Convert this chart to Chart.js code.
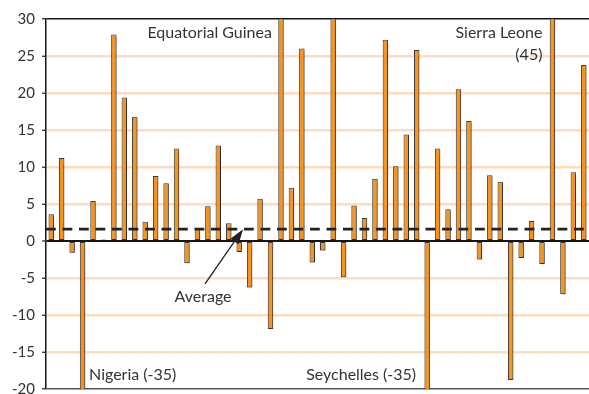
<!DOCTYPE html>
<html>
<head>
<meta charset="utf-8">
<script src="https://cdn.jsdelivr.net/npm/chart.js@4.4.1/dist/chart.umd.min.js"></script>
<style>
  html, body { margin: 0; padding: 0; background: #ffffff; }
  #wrap { width: 589px; height: 394px; }
</style>
</head>
<body>
<div id="wrap"><canvas id="c" width="589" height="394"></canvas></div>
<script>
// Growth by country (per cent); values beyond the axis range are clipped.
const countries = [
  'c01','c02','c03','Nigeria','c05','c06','c07','c08','c09','c10',
  'c11','c12','c13','c14','c15','c16','c17','c18','c19','c20',
  'c21','c22','Equatorial Guinea','c24','c25','c26','c27','c28','c29','c30',
  'c31','c32','c33','c34','c35','c36','Seychelles','c38','c39','c40',
  'c41','c42','c43','c44','c45','c46','c47','c48','Sierra Leone','c50',
  'c51','c52'
];
const growth = [
  3.6, 11.2, -1.6, -35, 5.4, 0.2, 27.9, 19.4, 16.8, 2.6,
  8.8, 7.8, 12.5, -3.0, 1.8, 4.7, 12.9, 2.4, -1.5, -6.3,
  5.7, -11.9, 34, 7.2, 26.0, -2.9, -1.3, 31, -4.9, 4.8,
  3.1, 8.4, 27.2, 10.1, 14.4, 25.8, -35, 12.5, 4.3, 20.5,
  16.2, -2.5, 8.9, 8.0, -18.8, -2.3, 2.7, -3.1, 45, -7.2,
  9.3, 23.8
];
const average = 1.6;
const yTicks = { min: -20, max: 30, step: 5 };

// Text callouts: [text, category index, value, alignment, pixel shift]
const callouts = [
  ['Equatorial Guinea', 22, 27.4, 'right', -9],
  ['Sierra Leone', 48, 27.4, 'right', -10],
  ['(45)', 48, 24.5, 'right', -10],
  ['Nigeria (-35)', 3, -18.8, 'left', 6.5],
  ['Seychelles (-35)', 36, -18.8, 'right', -11],
  ['Average', 14.54, -8.3, 'center', 0]
];
// Arrow from the "Average" label to the dashed line
const arrowFrom = { index: 14.73, value: -5.8 };
const arrowTo = { index: 18.37, value: average };

const TEXT = '#333333';
Chart.defaults.font.family = 'Lato, "Open Sans", sans-serif';

const barShadow = {
  id: 'barShadow',
  beforeDatasetDraw(chart) {
    const ctx = chart.ctx;
    ctx.save();
    ctx.shadowColor = 'rgba(0,0,0,0.35)';
    ctx.shadowBlur = 1.5;
    ctx.shadowOffsetX = 1;
    ctx.shadowOffsetY = 1;
  },
  afterDatasetDraw(chart) {
    chart.ctx.restore();
  }
};

const overlay = {
  id: 'overlay',
  afterDatasetsDraw(chart) {
    const ctx = chart.ctx;
    const xs = chart.scales.x, ys = chart.scales.y;
    const area = chart.chartArea;

    // dashed average line
    const ya = ys.getPixelForValue(average);
    ctx.save();
    ctx.strokeStyle = '#222222';
    ctx.lineWidth = 2.7;
    ctx.setLineDash([9.8, 6.7]);
    ctx.beginPath();
    ctx.moveTo(area.left, ya);
    ctx.lineTo(area.right, ya);
    ctx.stroke();
    ctx.restore();

    // arrow
    const x0 = xs.getPixelForValue(arrowFrom.index), y0 = ys.getPixelForValue(arrowFrom.value);
    const x1 = xs.getPixelForValue(arrowTo.index), y1 = ys.getPixelForValue(arrowTo.value);
    const ang = Math.atan2(y1 - y0, x1 - x0);
    const headLen = 15, headHalf = 5;
    const bx = x1 - headLen * Math.cos(ang), by = y1 - headLen * Math.sin(ang);
    ctx.save();
    ctx.strokeStyle = '#222222';
    ctx.fillStyle = '#222222';
    ctx.lineWidth = 1.3;
    ctx.beginPath();
    ctx.moveTo(x0, y0);
    ctx.lineTo(bx, by);
    ctx.stroke();
    ctx.beginPath();
    ctx.moveTo(x1, y1);
    ctx.lineTo(bx + headHalf * Math.sin(ang), by - headHalf * Math.cos(ang));
    ctx.lineTo(bx - headHalf * Math.sin(ang), by + headHalf * Math.cos(ang));
    ctx.closePath();
    ctx.fill();
    ctx.restore();

    // callout texts
    ctx.save();
    ctx.fillStyle = TEXT;
    ctx.font = '16px Lato, "Open Sans", sans-serif';
    ctx.textBaseline = 'alphabetic';
    callouts.forEach(([text, idx, val, align, dx]) => {
      ctx.textAlign = align;
      ctx.fillText(text, xs.getPixelForValue(idx) + dx, ys.getPixelForValue(val));
    });
    ctx.restore();
  }
};

function gridColor(ctx) {
  const v = ctx.tick && ctx.tick.value;
  if (v === 0 || v === yTicks.max) return '#161616';
  if (v === yTicks.min) return '#555555';
  return '#fddcbf';
}
function gridWidth(ctx) {
  const v = ctx.tick && ctx.tick.value;
  if (v === 0) return 2;
  if (v === yTicks.max || v === yTicks.min) return 1.5;
  return 2.5;
}

new Chart(document.getElementById('c'), {
  type: 'bar',
  data: {
    labels: countries,
    datasets: [{
      data: growth,
      backgroundColor: '#f7941d',
      borderColor: '#3a3a3a',
      borderWidth: 1,
      borderSkipped: false,
      barPercentage: 0.52,
      categoryPercentage: 1.0
    }]
  },
  options: {
    responsive: false,
    devicePixelRatio: 1,
    animation: false,
    events: [],
    layout: { padding: { top: 19, bottom: 5, left: 0, right: 0 } },
    plugins: {
      legend: { display: false },
      tooltip: { enabled: false },
      title: { display: false }
    },
    scales: {
      x: { display: false, offset: true },
      y: {
        min: yTicks.min,
        max: yTicks.max,
        ticks: {
          stepSize: yTicks.step,
          color: TEXT,
          font: { size: 15 },
          padding: 7
        },
        grid: {
          color: gridColor,
          lineWidth: gridWidth,
          tickColor: '#222222',
          tickWidth: 1.2,
          tickLength: 4
        },
        border: { display: true, color: '#161616', width: 1.5 },
        afterFit(scale) {
          scale.width = 46;
          scale.paddingTop = 0;
          scale.paddingBottom = 0;
        }
      }
    }
  },
  plugins: [barShadow, overlay]
});
</script>
</body>
</html>
